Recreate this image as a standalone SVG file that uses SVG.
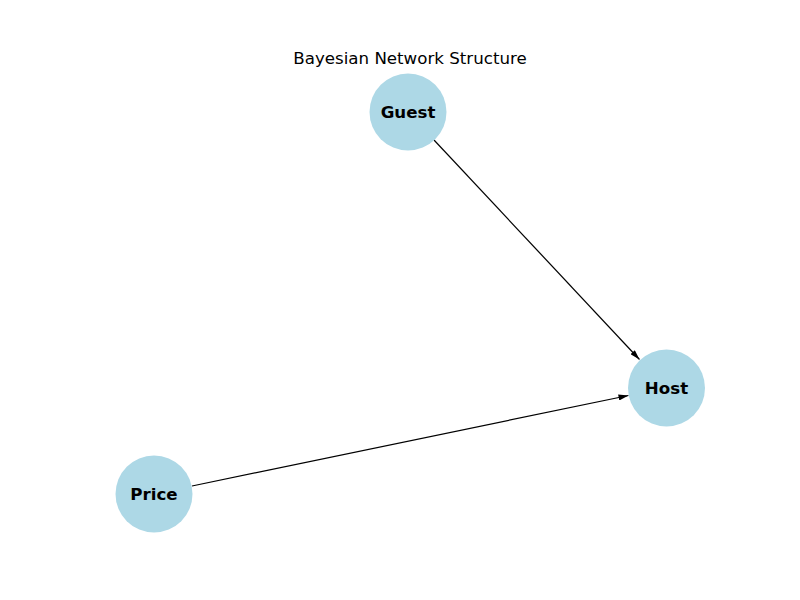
<svg xmlns="http://www.w3.org/2000/svg" width="800" height="600" viewBox="0 0 800 600">
<style>
.node{fill:#ADD8E6}
.lbl{font-family:"DejaVu Sans",sans-serif;font-weight:bold;font-size:16.67px;fill:#000;text-anchor:middle;dominant-baseline:central}
.edge{stroke:#000;stroke-width:1.2;fill:none;marker-end:url(#ah)}
</style>
<defs>
<marker id="ah" viewBox="0 0 10 6" refX="10" refY="3" markerWidth="10" markerHeight="6" markerUnits="userSpaceOnUse" orient="auto">
<path d="M0,0 L10,3 L0,6 Z" fill="#000"/>
</marker>
</defs>
<rect width="800" height="600" fill="#fff"/>
<text x="410" y="64" font-family="DejaVu Sans,sans-serif" font-size="16.67" text-anchor="middle">Bayesian Network Structure</text>
<g id="edges">
<line class="edge" x1="434" y1="140" x2="639.5" y2="359.5"/>
<line class="edge" x1="192" y1="486" x2="628.5" y2="395.5"/>
</g>
<g id="node-guest"><circle class="node" cx="408" cy="112" r="38.5"/><text class="lbl" x="408" y="112">Guest</text></g>
<g id="node-host"><circle class="node" cx="666.5" cy="388" r="38.5"/><text class="lbl" x="666.5" y="388">Host</text></g>
<g id="node-price"><circle class="node" cx="154" cy="494" r="38.5"/><text class="lbl" x="154" y="494">Price</text></g>
</svg>
